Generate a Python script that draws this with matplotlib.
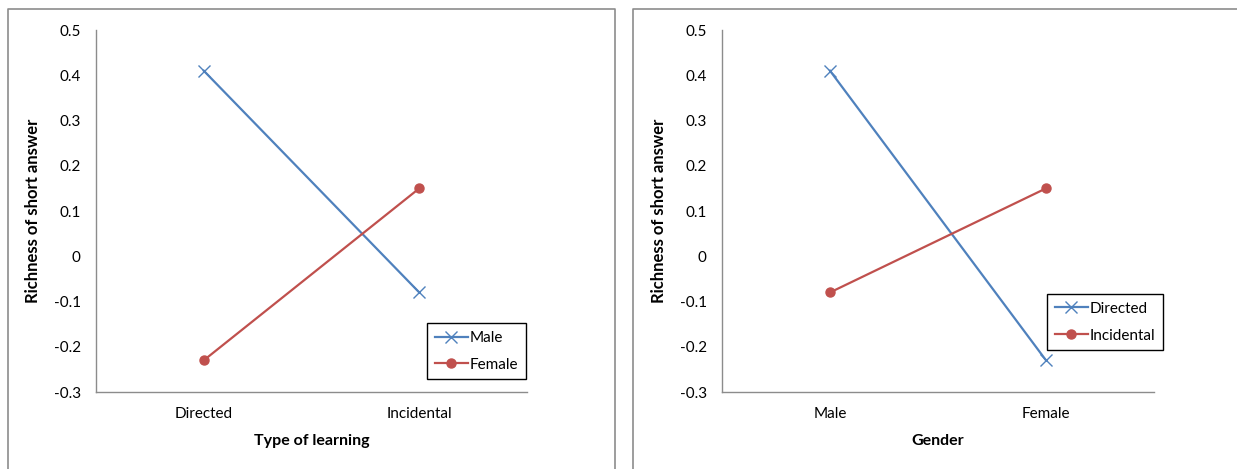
import matplotlib
matplotlib.use("Agg")
import matplotlib.pyplot as plt
from matplotlib.lines import Line2D

plt.rcParams['font.family'] = ['Lato', 'DejaVu Sans']

# Data
learning_types = ["Directed", "Incidental"]
genders = ["Male", "Female"]
male_vals = [0.41, -0.08]      # by learning type
female_vals = [-0.23, 0.15]    # by learning type
directed_vals = [0.41, -0.23]  # by gender
incidental_vals = [-0.08, 0.15]  # by gender
yticks = [-0.3, -0.2, -0.1, 0, 0.1, 0.2, 0.3, 0.4, 0.5]
ytick_labels = ["-0.3", "-0.2", "-0.1", "0", "0.1", "0.2", "0.3", "0.4", "0.5"]

BLUE = "#4F81BD"
RED = "#C0504D"
GRAY = "#8C8C8C"

W, H = 1237, 469
fig = plt.figure(figsize=(W / 100, H / 100), dpi=100)

def px_axes(x0, x1, y0, y1):
    return fig.add_axes([x0 / W, 1 - y1 / H, (x1 - x0) / W, (y1 - y0) / H])

def style(ax, cats, xlabel):
    ax.set_xlim(-0.5, 1.5)
    ax.set_ylim(-0.3, 0.5)
    ax.set_xticks(range(len(cats)))
    ax.set_xticklabels(cats)
    ax.set_yticks(yticks)
    ax.set_yticklabels(ytick_labels)
    for s in ["top", "right"]:
        ax.spines[s].set_visible(False)
    for s in ["left", "bottom"]:
        ax.spines[s].set_color(GRAY)
        ax.spines[s].set_linewidth(1.0)
    ax.tick_params(axis='both', length=0, labelsize=11, colors="#000000")
    ax.tick_params(axis='y', pad=11)
    ax.tick_params(axis='x', pad=11)
    ax.set_xlabel(xlabel, fontsize=11.5, fontweight='bold', labelpad=9)
    ax.set_ylabel("Richness of short answer", fontsize=12, fontweight='bold', labelpad=9)

def plot_series(ax, cats, v1, v2, l1, l2, anchor):
    x = range(len(cats))
    ax.plot(x, v1, color=BLUE, lw=1.6, marker='x', markersize=9, mew=1.0, label=l1, clip_on=False)
    ax.plot(x, v2, color=RED, lw=1.6, marker='o', markersize=6.5, label=l2, clip_on=False)
    leg = ax.legend(loc='upper left', bbox_to_anchor=anchor, fancybox=False,
                    edgecolor='#000000', framealpha=1, fontsize=11,
                    handlelength=2.2, handletextpad=0.1, labelspacing=0.85,
                    borderpad=0.5, borderaxespad=0)
    leg.get_frame().set_linewidth(1.0)

ax1 = px_axes(96, 527, 30, 392)
style(ax1, learning_types, "Type of learning")
plot_series(ax1, learning_types, male_vals, female_vals, "Male", "Female", (0.768, 0.19))

ax2 = px_axes(722, 1154, 30, 392)
style(ax2, genders, "Gender")
plot_series(ax2, genders, directed_vals, incidental_vals, "Directed", "Incidental", (0.752, 0.271))

# chart-area borders
def fline(xs, ys):
    fig.add_artist(Line2D([x / W for x in xs], [1 - y / H for y in ys],
                          color=GRAY, lw=1.2))

fline([8, 8, 615, 615], [470, 9, 9, 470])
fline([633, 633, 1240], [470, 9, 9])

fig.savefig("out.png", dpi=100, facecolor='white')
